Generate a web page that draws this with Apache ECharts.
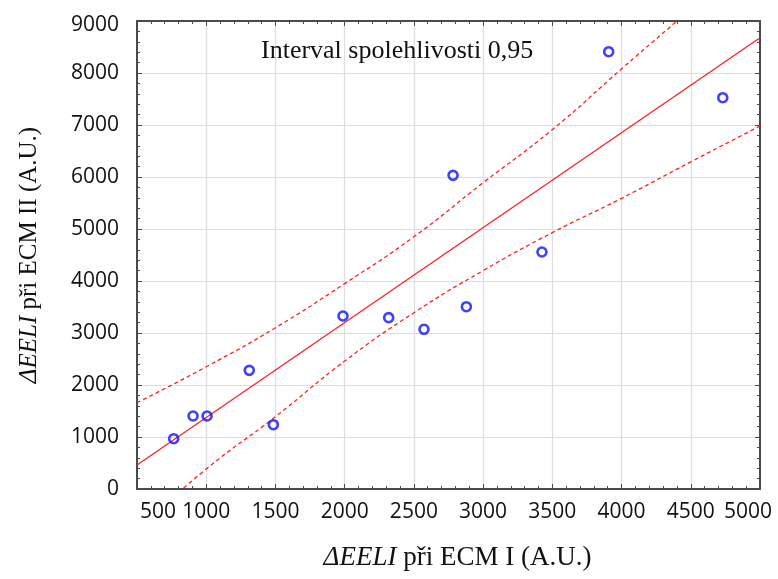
<!DOCTYPE html>
<html>
<head>
<meta charset="utf-8">
<script src="https://cdn.jsdelivr.net/npm/echarts@6/dist/echarts.min.js"></script>
<style>
  html, body { margin: 0; padding: 0; background: #fff; }
  #chart { width: 778px; height: 579px; }
</style>
</head>
<body>
<div id="chart"></div>
<script>
// ΔEELI measured at ECM I (x) and ECM II (y), one point per subject
const ecm1 = [765, 905, 1006, 1311, 1485, 1988, 2318, 2573, 2783, 2879, 3425, 3907, 4731];
const ecm2 = [967, 1404, 1404, 2282, 1237, 3327, 3295, 3071, 6032, 3506, 4558, 8410, 7525];

// fitted regression line (end points)
const fitX = [500, 5000];
const fitY = [461, 8679];

// 0.95 confidence band, sampled along x
const bandX  = [500, 1000, 1500, 2000, 2500, 3000, 3500, 4000, 4500, 5000];
const upperY = [1660, 2350, 3100, 3950, 4850, 5890, 6910, 8080, 9230, 10400];
const lowerY = [-790, 385, 1390, 2460, 3390, 4200, 4930, 5590, 6290, 6981];

// axis ranges and tick steps
const xMin = 500, xMax = 5000, xStep = 500;
const yMin = 0, yMax = 9000, yStep = 1000;

const bandLabel = 'Interval spolehlivosti 0,95';
const xTitle = '{i|ΔEELI} při ECM I (A.U.)';
const yTitle = '{i|ΔEELI} při ECM II (A.U.)';

const zip = (xs, ys) => xs.map((x, i) => [x, ys[i]]);

const tickFont = { fontFamily: 'Open Sans', fontSize: 21, color: '#111' };
const serif = 'Liberation Serif';
const axisColor = '#4a4a4a';

function frameAxis(extra) {
  return Object.assign({
    type: 'value',
    axisLine: { show: true, onZero: false, lineStyle: { color: axisColor, width: 2 } },
    axisTick: { show: true, inside: true, length: 5, lineStyle: { color: axisColor, width: 1 } },
    minorTick: { show: true, splitNumber: 5, length: 3, lineStyle: { color: axisColor, width: 1 } },
    splitLine: { show: false },
    axisLabel: { show: false }
  }, extra);
}

const chart = echarts.init(document.getElementById('chart'), null, { renderer: 'canvas' });

chart.setOption({
  backgroundColor: '#ffffff',
  animation: false,
  title: {
    text: bandLabel,
    left: 261,
    top: 38,
    padding: 0,
    textStyle: { fontFamily: serif, fontSize: 26, fontWeight: 'normal', color: '#111' }
  },
  grid: { left: 137, right: 18, top: 21, bottom: 90 },
  xAxis: [
    frameAxis({
      position: 'bottom',
      min: xMin, max: xMax, interval: xStep,
      splitLine: { show: true, lineStyle: { color: '#dedede', width: 1.2 } },
      axisLabel: {
        show: true, margin: 13,
        fontFamily: tickFont.fontFamily, fontSize: tickFont.fontSize, color: tickFont.color,
        formatter: v => v === xMin ? '{a|' + v + '}' : (v === xMax ? '{b|' + v + '}' : '{n|' + v + '}'),
        rich: {
          n: tickFont,
          a: Object.assign({ padding: [0, 0, 0, 42] }, tickFont),
          b: Object.assign({ padding: [0, 24, 0, 0] }, tickFont)
        }
      },
      name: xTitle,
      nameLocation: 'middle',
      nameGap: 55,
      nameTextStyle: {
        fontFamily: serif, fontSize: 27, color: '#111', padding: [0, 0, 0, 18],
        rich: {
          i: { fontFamily: serif, fontSize: 27, fontStyle: 'italic', color: '#111' }
        }
      }
    }),
    frameAxis({ position: 'top', min: xMin, max: xMax, interval: xStep })
  ],
  yAxis: [
    frameAxis({
      position: 'left',
      min: yMin, max: yMax, interval: yStep,
      splitLine: { show: true, lineStyle: { color: '#dedede', width: 1.2 } },
      axisLabel: {
        show: true, margin: 18,
        fontFamily: tickFont.fontFamily, fontSize: tickFont.fontSize, color: tickFont.color,
        formatter: v => v === yMax ? '{t|' + v + '}' : '{n|' + v + '}',
        rich: {
          n: tickFont,
          t: Object.assign({ padding: [8, 0, 0, 0] }, tickFont)
        }
      },
      name: yTitle,
      nameLocation: 'middle',
      nameGap: 95,
      nameRotate: 90,
      nameTextStyle: {
        fontFamily: serif, fontSize: 25, color: '#111',
        rich: {
          i: { fontFamily: serif, fontSize: 25, fontStyle: 'italic', color: '#111' }
        }
      }
    }),
    frameAxis({ position: 'right', min: yMin, max: yMax, interval: yStep })
  ],
  series: [
    {
      name: 'upper',
      type: 'line',
      data: zip(bandX, upperY),
      smooth: 0.5,
      showSymbol: false,
      clip: true,
      lineStyle: { color: '#ff2020', width: 1.3, type: [4, 3] },
      z: 3
    },
    {
      name: 'lower',
      type: 'line',
      data: zip(bandX, lowerY),
      smooth: 0.5,
      showSymbol: false,
      clip: true,
      lineStyle: { color: '#ff2020', width: 1.3, type: [4, 3] },
      z: 3
    },
    {
      name: 'fit',
      type: 'line',
      data: zip(fitX, fitY),
      showSymbol: false,
      clip: true,
      lineStyle: { color: '#ff2020', width: 1.3 },
      z: 3
    },
    {
      name: 'ΔEELI',
      type: 'scatter',
      data: zip(ecm1, ecm2),
      symbol: 'circle',
      symbolSize: 9,
      itemStyle: { color: 'rgba(255,255,255,0)', borderColor: '#1010ff', borderWidth: 2.6 },
      z: 4
    }
  ]
});
</script>
</body>
</html>
